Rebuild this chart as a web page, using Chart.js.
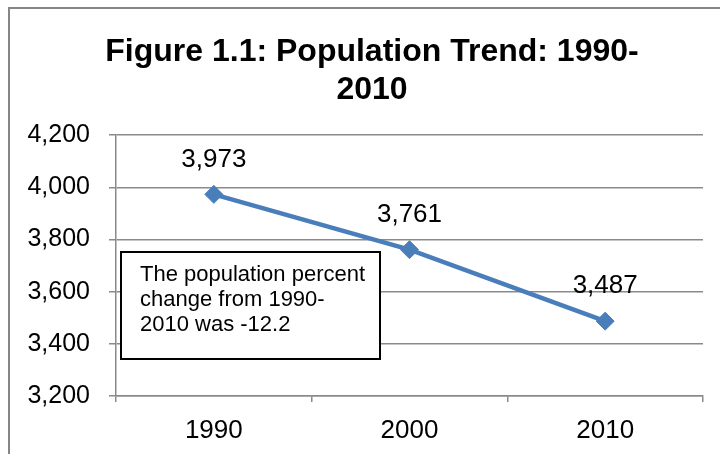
<!DOCTYPE html>
<html>
<head>
<meta charset="utf-8">
<script src="https://cdn.jsdelivr.net/npm/chart.js@4/dist/chart.umd.min.js"></script>
<style>
  html, body { margin: 0; padding: 0; background: #fff; }
  #wrap { width: 720px; height: 454px; position: relative; overflow: hidden; }
</style>
</head>
<body>
<div id="wrap"><canvas id="popChart" width="720" height="454"></canvas></div>
<script>
const years = ['1990', '2000', '2010'];
const population = [3973, 3761, 3487];
const yTicks = [3200, 3400, 3600, 3800, 4000, 4200];
const titleLines = ['Figure 1.1: Population Trend: 1990-', '2010'];
const noteLines = ['The population percent', 'change from 1990-', '2010 was -12.2'];

const gridColor = '#8a8a8a';
const lineBlue = '#4a7ebb';
const font = 'Liberation Sans, Arial, sans-serif';

// outer frame + note box
const extras = {
    id: 'extras',
    afterLayout(chart) {
        // title is centred on the frame, not on the canvas
        if (chart.titleBlock) chart.titleBlock.left = 41;
    },
    beforeDraw(chart) {
        const ctx = chart.ctx;
        ctx.save();
        ctx.fillStyle = '#fff';
        ctx.fillRect(0, 0, chart.width, chart.height);
        ctx.strokeStyle = '#868686';
        ctx.lineWidth = 2;
        ctx.strokeRect(9, 8, 800, 500);
        ctx.restore();
    },
    afterDatasetsDraw(chart) {
        const ctx = chart.ctx;
        ctx.save();
        // data labels above each point
        const meta = chart.getDatasetMeta(0);
        ctx.font = '26px ' + font;
        ctx.fillStyle = '#000';
        ctx.textAlign = 'center';
        ctx.textBaseline = 'middle';
        meta.data.forEach((pt, i) => {
            ctx.fillText(population[i].toLocaleString('en-US'), pt.x, pt.y - 35);
        });
        // note box
        ctx.fillStyle = '#fff';
        ctx.fillRect(121, 252, 259, 107);
        ctx.strokeStyle = '#000';
        ctx.lineWidth = 2;
        ctx.strokeRect(121, 252, 259, 107);
        ctx.fillStyle = '#000';
        ctx.font = '22px ' + font;
        ctx.textAlign = 'left';
        noteLines.forEach((t, i) => ctx.fillText(t, 140, 275 + i * 25));
        ctx.restore();
    }
};

new Chart(document.getElementById('popChart'), {
    type: 'line',
    data: {
        labels: years,
        datasets: [{
            data: population,
            borderColor: lineBlue,
            backgroundColor: lineBlue,
            borderWidth: 4.5,
            pointStyle: 'rectRot',
            pointRadius: 9,
            pointBorderWidth: 1,
            pointBackgroundColor: lineBlue,
            pointBorderColor: lineBlue,
            tension: 0
        }]
    },
    options: {
        responsive: false,
        animation: false,
        layout: { padding: { left: 0, right: 17, top: 0, bottom: 0 } },
        plugins: {
            legend: { display: false },
            tooltip: { enabled: false },
            title: {
                display: true,
                text: titleLines,
                color: '#000',
                font: { family: font, size: 32, weight: 'bold', lineHeight: 1.19 },
                padding: { top: 33, bottom: 26 }
            }
        },
        scales: {
            x: {
                type: 'category',
                offset: true,
                grid: {
                    offset: true,
                    drawOnChartArea: false,
                    drawTicks: true,
                    tickLength: 6,
                    color: gridColor,
                    lineWidth: 1.5
                },
                border: { color: gridColor, width: 1.5 },
                ticks: {
                    color: '#000',
                    padding: 13,
                    font: { family: font, size: 26 }
                },
                afterFit(scale) { scale.height = 58; }
            },
            y: {
                min: 3200,
                max: 4200,
                afterBuildTicks(scale) { scale.ticks = yTicks.map(v => ({ value: v })); },
                grid: {
                    color: gridColor,
                    lineWidth: 1.5,
                    drawTicks: true,
                    tickLength: 7
                },
                border: { color: gridColor, width: 1.5 },
                ticks: {
                    color: '#000',
                    padding: 19,
                    font: { family: font, size: 25 },
                    callback: v => v.toLocaleString('en-US')
                },
                afterFit(scale) { scale.width = 116; }
            }
        }
    },
    plugins: [extras]
});
</script>
</body>
</html>
